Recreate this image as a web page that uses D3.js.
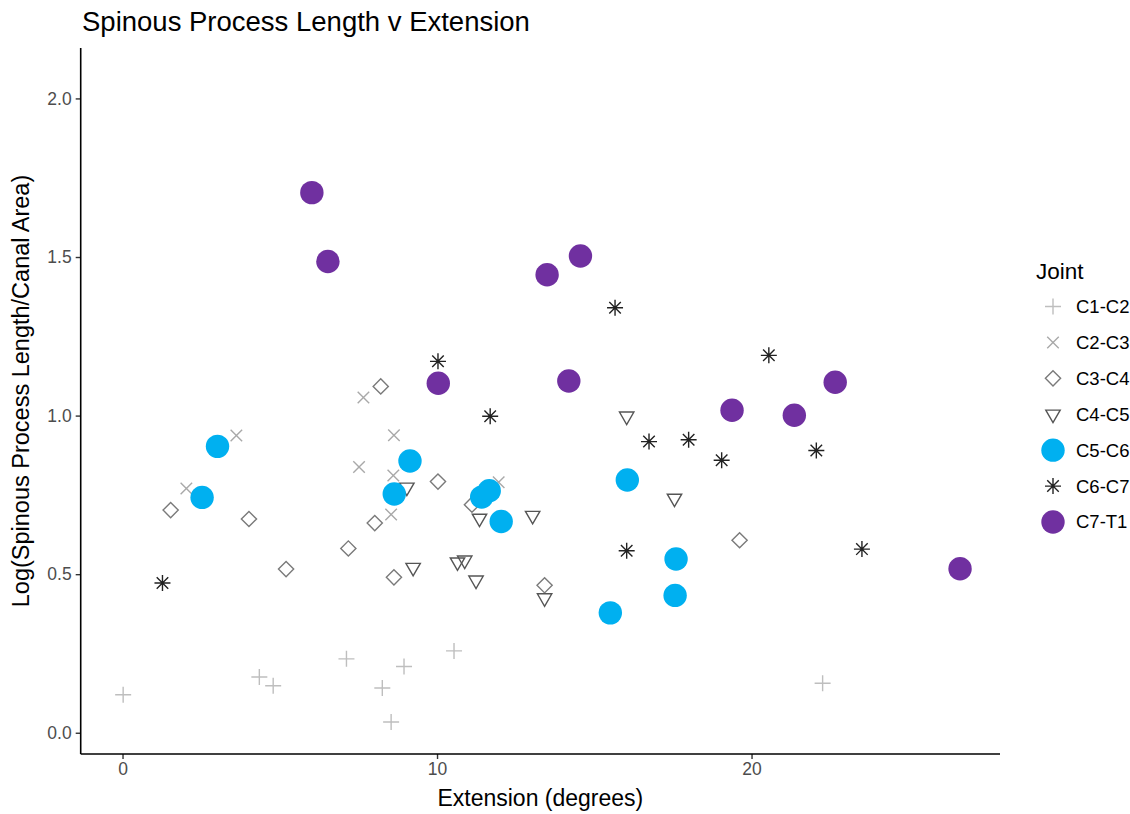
<!DOCTYPE html>
<html>
<head>
<meta charset="utf-8">
<script src="https://cdn.jsdelivr.net/npm/d3@7"></script>
<style>
  html, body { margin: 0; padding: 0; background: #fff; }
  svg { display: block; font-family: "Liberation Sans", Arial, Helvetica, sans-serif; }
</style>
</head>
<body>
<svg id="chart" width="1130" height="814"></svg>
<script>
// Joint categories in legend order
const joints = ["C1-C2", "C2-C3", "C3-C4", "C4-C5", "C5-C6", "C6-C7", "C7-T1"];

// [extension (degrees), log(spinous process length / canal area)] per joint
const c1c2 = [[0.02, 0.120], [4.35, 0.176], [4.79, 0.148], [7.12, 0.233], [8.26, 0.141],
              [8.54, 0.034], [8.95, 0.209], [10.54, 0.258], [22.26, 0.156]];
const c2c3 = [[2.03, 0.770], [3.62, 0.937], [7.52, 0.838], [7.66, 1.057], [8.54, 0.688],
              [8.61, 0.811], [8.63, 0.938], [11.96, 0.790]];
const c3c4 = [[1.53, 0.702], [4.02, 0.674], [5.20, 0.516], [7.18, 0.581], [8.02, 0.661],
              [8.21, 1.092], [8.63, 0.490], [10.03, 0.792], [11.11, 0.719], [13.42, 0.465],
              [19.62, 0.607]];
const c4c5 = [[9.04, 0.774], [9.24, 0.521], [10.65, 0.538], [10.88, 0.544], [11.24, 0.481],
              [11.35, 0.676], [13.04, 0.685], [13.42, 0.425], [16.03, 0.998], [17.55, 0.739]];
const c5c6 = [[2.53, 0.742], [3.02, 0.903], [8.64, 0.753], [9.14, 0.857], [11.42, 0.743],
              [11.66, 0.763], [12.04, 0.666], [15.51, 0.378], [16.05, 0.797], [17.57, 0.433],
              [17.60, 0.548]];
const c6c7 = [[1.27, 0.472], [10.03, 1.171], [11.69, 0.998], [15.66, 1.340], [16.03, 0.574],
              [16.74, 0.918], [18.00, 0.924], [19.05, 0.859], [20.55, 1.190], [22.06, 0.890],
              [23.51, 0.579]];
const c7t1 = [[6.02, 1.703], [6.53, 1.486], [10.04, 1.102], [13.50, 1.444], [14.19, 1.109],
              [14.56, 1.503], [19.38, 1.017], [21.36, 1.001], [22.66, 1.105], [26.63, 0.517]];

const seriesValues = [c1c2, c2c3, c3c4, c4c5, c5c6, c6c7, c7t1];

const xTicks = [0, 10, 20];
const yTicks = [0.0, 0.5, 1.0, 1.5, 2.0];

const titleText = "Spinous Process Length v Extension";
const xTitle = "Extension (degrees)";
const yTitle = "Log(Spinous Process Length/Canal Area)";
const legendTitle = "Joint";

// ---- marker shapes (size = half-extent in px) ----
const plusShape = { draw(ctx, s) { ctx.moveTo(-s, 0); ctx.lineTo(s, 0); ctx.moveTo(0, -s); ctx.lineTo(0, s); } };
const timesShape = { draw(ctx, s) { const a = s * 0.72; ctx.moveTo(-a, -a); ctx.lineTo(a, a); ctx.moveTo(-a, a); ctx.lineTo(a, -a); } };
const diamondShape = { draw(ctx, s) { ctx.moveTo(0, -s); ctx.lineTo(s, 0); ctx.lineTo(0, s); ctx.lineTo(-s, 0); ctx.closePath(); } };
const triDownShape = { draw(ctx, s) {
  const h = s * 1.732; // equilateral triangle pointing down, centred on its centroid
  ctx.moveTo(-s, -h / 3); ctx.lineTo(s, -h / 3); ctx.lineTo(0, 2 * h / 3); ctx.closePath(); } };
const circleShape = { draw(ctx, s) { ctx.moveTo(s, 0); ctx.arc(0, 0, s, 0, 2 * Math.PI); } };
const starShape = { draw(ctx, s) {
  const a = s * 0.72;
  ctx.moveTo(-s, 0); ctx.lineTo(s, 0); ctx.moveTo(0, -s); ctx.lineTo(0, s);
  ctx.moveTo(-a, -a); ctx.lineTo(a, a); ctx.moveTo(-a, a); ctx.lineTo(a, -a); } };

const styles = [
  { shape: plusShape,    size: 8,    fill: "none",    stroke: "#BEBEBE", width: 1.4 },
  { shape: timesShape,   size: 8,    fill: "none",    stroke: "#A9A9A9", width: 1.4 },
  { shape: diamondShape, size: 7.6,  fill: "none",    stroke: "#7A7A7A", width: 1.4 },
  { shape: triDownShape, size: 7.2,  fill: "none",    stroke: "#555555", width: 1.4 },
  { shape: circleShape,  size: 11.7, fill: "#00B0F0", stroke: "none",    width: 0 },
  { shape: starShape,    size: 8,    fill: "none",    stroke: "#222222", width: 1.4 },
  { shape: circleShape,  size: 11.7, fill: "#7030A0", stroke: "none",    width: 0 }
];

// ---- layout ----
const panel = { left: 80.7, right: 1000, top: 48, bottom: 754 };

const x = d3.scaleLinear().domain([-1.33, 27.9]).range([panel.left, panel.right]);
const y = d3.scaleLinear().domain([-0.067, 2.159]).range([panel.bottom, panel.top]);

const svg = d3.select("#chart");

// points, one layer per joint (later joints on top)
const pointsG = svg.append("g");
seriesValues.forEach((vals, i) => {
  const st = styles[i];
  const sym = d3.symbol().type(st.shape).size(st.size);
  pointsG.append("g")
    .attr("class", "joint")
    .selectAll("path")
    .data(vals)
    .join("path")
    .attr("transform", d => `translate(${x(d[0])},${y(d[1])})`)
    .attr("d", sym)
    .attr("fill", st.fill)
    .attr("stroke", st.stroke)
    .attr("stroke-width", st.width);
});

// axes
const xAxis = svg.append("g")
  .attr("transform", `translate(0,${panel.bottom})`)
  .call(d3.axisBottom(x).tickValues(xTicks).tickFormat(d3.format("d")).tickSize(5).tickPadding(4));
const yAxis = svg.append("g")
  .attr("transform", `translate(${panel.left},0)`)
  .call(d3.axisLeft(y).tickValues(yTicks).tickFormat(d3.format(".1f")).tickSize(5).tickPadding(4));

[xAxis, yAxis].forEach(g => {
  g.select(".domain").remove();
  g.selectAll(".tick line").attr("stroke", "#333").attr("stroke-width", 1.4);
  g.selectAll(".tick text").attr("fill", "#4D4D4D").style("font-size", "17.5px");
});

// axis lines
svg.append("line").attr("x1", panel.left).attr("x2", panel.right)
  .attr("y1", panel.bottom).attr("y2", panel.bottom)
  .attr("stroke", "#000").attr("stroke-width", 1.6);
svg.append("line").attr("x1", panel.left).attr("x2", panel.left)
  .attr("y1", panel.top).attr("y2", panel.bottom)
  .attr("stroke", "#000").attr("stroke-width", 1.6);

// titles
svg.append("text").attr("x", 82).attr("y", 31)
  .style("font-size", "27.5px").attr("fill", "#000").text(titleText);
svg.append("text").attr("x", (panel.left + panel.right) / 2).attr("y", 806)
  .attr("text-anchor", "middle").style("font-size", "23px").attr("fill", "#000").text(xTitle);
svg.append("text")
  .attr("transform", `translate(29,391) rotate(-90)`)
  .attr("text-anchor", "middle").style("font-size", "23.5px").attr("fill", "#000").text(yTitle);

// legend
const legend = svg.append("g");
legend.append("text").attr("x", 1036).attr("y", 279)
  .style("font-size", "22.5px").attr("fill", "#000").text(legendTitle);
const rowY = d3.scalePoint().domain(joints).range([306.5, 522]);
joints.forEach((j, i) => {
  const st = styles[i];
  const sym = d3.symbol().type(st.shape).size(st.size);
  const cy = rowY(j);
  legend.append("path")
    .attr("transform", `translate(1053,${cy})`)
    .attr("d", sym)
    .attr("fill", st.fill).attr("stroke", st.stroke).attr("stroke-width", st.width);
  legend.append("text").attr("x", 1076).attr("y", cy).attr("dy", "0.35em")
    .style("font-size", "18.5px").attr("fill", "#000").text(j);
});
</script>
</body>
</html>
